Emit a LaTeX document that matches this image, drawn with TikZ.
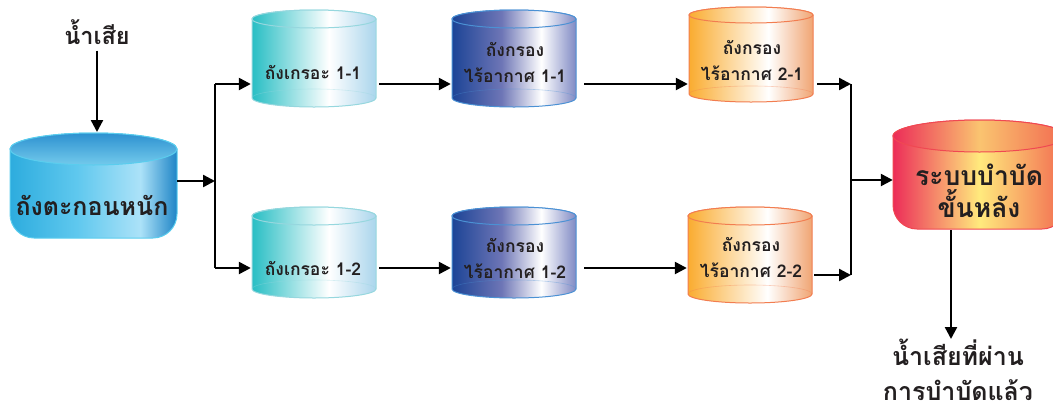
\documentclass[tikz,border=0pt]{standalone}
\usepackage{fontspec}
\newfontfamily\thaifont[Script=Thai]{Loma}
\usetikzlibrary{arrows.meta}

% tank colours
\definecolor{ink}{RGB}{35,31,32}
\definecolor{cyL}{RGB}{45,172,222}
\definecolor{cyM}{RGB}{95,200,238}
\definecolor{cyH}{RGB}{172,226,248}
\definecolor{cyR}{RGB}{30,132,198}
\definecolor{cyTopD}{RGB}{45,145,208}
\definecolor{cyTopL}{RGB}{115,202,236}
\definecolor{cyRim}{RGB}{90,205,238}
\definecolor{teL}{RGB}{40,190,196}
\definecolor{teR}{RGB}{170,213,236}
\definecolor{teRim}{RGB}{150,215,222}
\definecolor{blL}{RGB}{28,68,150}
\definecolor{blM}{RGB}{110,118,182}
\definecolor{blR}{RGB}{128,138,196}
\definecolor{blRim}{RGB}{75,145,212}
\definecolor{orL}{RGB}{250,172,48}
\definecolor{orR}{RGB}{240,165,115}
\definecolor{orRim}{RGB}{242,125,80}
\definecolor{rdL}{RGB}{236,45,88}
\definecolor{rdM}{RGB}{255,234,125}
\definecolor{rdR}{RGB}{242,105,80}
\definecolor{rdRim}{RGB}{240,72,82}
\definecolor{rdTopM}{RGB}{250,196,112}

% body shadings (the filled path spans 25bp..75bp)
\pgfdeclarehorizontalshading{cyanbody}{100bp}{color(0bp)=(cyL); color(25bp)=(cyL); color(45bp)=(cyM); color(64bp)=(cyH); color(75bp)=(cyR); color(100bp)=(cyR)}
\pgfdeclareverticalshading{cyantop}{100bp}{color(0bp)=(cyTopL); color(25bp)=(cyTopL); color(75bp)=(cyTopD); color(100bp)=(cyTopD)}
\pgfdeclarehorizontalshading{tealbody}{100bp}{color(0bp)=(teL); color(25bp)=(teL); color(56bp)=(white); color(75bp)=(teR); color(100bp)=(teR)}
\pgfdeclarehorizontalshading{bluebody}{100bp}{color(0bp)=(blL); color(25bp)=(blL); color(45bp)=(blM); color(61bp)=(white); color(75bp)=(blR); color(100bp)=(blR)}
\pgfdeclarehorizontalshading{orangebody}{100bp}{color(0bp)=(orL); color(25bp)=(orL); color(57bp)=(white); color(75bp)=(orR); color(100bp)=(orR)}
\pgfdeclarehorizontalshading{redbody}{100bp}{color(0bp)=(rdL); color(25bp)=(rdL); color(50bp)=(rdM); color(75bp)=(rdR); color(100bp)=(rdR)}
\pgfdeclarehorizontalshading{redtop}{100bp}{color(0bp)=(rdL); color(25bp)=(rdL); color(50bp)=(rdTopM); color(75bp)=(rdR); color(100bp)=(rdR)}

% tank with an elliptic bottom: xL, xR, top y, bottom y, ry, body shading, rim, top shading
\newcommand\tankE[8]{%
  \pgfmathsetmacro\tkrx{(#2-#1)/2}\pgfmathsetmacro\tkxc{(#1+#2)/2}%
  \path[shade,shading=#6,draw=#7,line width=1pt]
    (#2,#3) arc[start angle=0,end angle=-180,x radius=\tkrx,y radius=#5]
    -- (#1,#4) arc[start angle=180,end angle=0,x radius=\tkrx,y radius=#5] -- cycle;
  \path[draw=#7,line width=0.6pt,opacity=0.35]
    (#1,#4) arc[start angle=180,end angle=360,x radius=\tkrx,y radius=#5];
  \path[shade,shading=#8,draw=#7,line width=1pt] (\tkxc,#3) ellipse[x radius=\tkrx,y radius=#5];
}
% tank with a rounded flat bottom: xL, xR, top y, bottom y, ry, corner radius, body shading, rim, top shading
\newcommand\tankR[9]{%
  \pgfmathsetmacro\tkrx{(#2-#1)/2}\pgfmathsetmacro\tkxc{(#1+#2)/2}%
  \pgfmathsetmacro\tkyc{#4-#6}\pgfmathsetmacro\tkxl{#1+#6}\pgfmathsetmacro\tkxr{#2-#6}%
  \path[shade,shading=#7,draw=#8,line width=1pt]
    (#2,#3) arc[start angle=0,end angle=-180,x radius=\tkrx,y radius=#5]
    -- (#1,\tkyc) arc[start angle=180,end angle=90,radius=#6]
    -- (\tkxr,#4) arc[start angle=90,end angle=0,radius=#6] -- cycle;
  \path[shade,shading=#9,draw=#8,line width=1pt] (\tkxc,#3) ellipse[x radius=\tkrx,y radius=#5];
}

\begin{document}
\begin{tikzpicture}[x=1pt,y=-1pt,
  arr/.style={line width=2.4pt,-{Triangle[length=12pt,width=12pt]}},
  trunk/.style={line width=1.8pt},
  port/.style={inner sep=0pt,minimum height=2pt,draw=none},
  lbl/.style={inner sep=0pt,text=ink,align=center},
  big/.style={lbl,font=\thaifont\bfseries\fontsize{25}{37}\selectfont},
  small/.style={lbl,font=\thaifont\bfseries\fontsize{17.5}{26}\selectfont}]
\useasboundingbox (0,0) rectangle (1053,413);

% tanks
\tankR{10}{177}{149}{238}{16}{24}{cyanbody}{cyRim}{cyantop}
\tankE{252}{376}{19}{98}{9}{tealbody}{teRim}{tealbody}
\tankE{452}{576}{19}{98}{9}{bluebody}{blRim}{bluebody}
\tankE{689}{813}{15}{94}{8}{orangebody}{orRim}{orangebody}
\tankE{252}{376}{216}{289}{9}{tealbody}{teRim}{tealbody}
\tankE{452}{576}{216}{289}{9}{bluebody}{blRim}{bluebody}
\tankE{688}{812}{216}{294}{9}{orangebody}{orRim}{orangebody}
\tankR{893}{1066}{136}{229}{16}{24}{redbody}{rdRim}{redtop}

% connection ports on the tank sides
\node[port,minimum width=167] (c0)  at (93.5,181) {};
\node[port,minimum width=126] (t11) at (314,84) {};
\node[port,minimum width=126] (b11) at (514,84) {};
\node[port,minimum width=126] (o21) at (751,84) {};
\node[port,minimum width=126] (t12) at (314,268) {};
\node[port,minimum width=126] (b12) at (514,268) {};
\node[port,minimum width=126] (o22) at (750,268) {};
\node[port,minimum width=173] (r)   at (979.5,180) {};

% labels
\node[big,font=\thaifont\bfseries\fontsize{23.5}{30}\selectfont] (in0) at (97,32) {น้ำเสีย};
\node[big] (lc0) at (92,205) {ถังตะกอนหนัก};
\node[small] (lt11) at (313,72) {ถังเกรอะ 1-1};
\node[small] (lb11) at (515,62) {ถังกรอง\\ไร้อากาศ 1-1};
\node[small] (lo21) at (752,60) {ถังกรอง\\ไร้อากาศ 2-1};
\node[small] (lt12) at (313,268) {ถังเกรอะ 1-2};
\node[small] (lb12) at (515,258) {ถังกรอง\\ไร้อากาศ 1-2};
\node[small] (lo22) at (751,257) {ถังกรอง\\ไร้อากาศ 2-2};
\node[big,font=\thaifont\bfseries\fontsize{26.5}{32}\selectfont] (lr) at (979,191) {ระบบบำบัด\\ขั้นหลัง};
\node[big,anchor=north,font=\thaifont\bfseries\fontsize{25}{35}\selectfont] (out) at (958,339) {น้ำเสียที่ผ่าน\\การบำบัดแล้ว};

% junction points
\coordinate (c0top) at (97,132);
\coordinate (s1)  at (215,181);
\coordinate (s1t) at (215,84);
\coordinate (s1b) at (215,268);
\coordinate (o22out) at (814,275);
\coordinate (m1t) at (851,84);
\coordinate (m1b) at (851,275);
\coordinate (m1)  at (851,180);
\coordinate (rbot) at (951,230);

% connectors
\draw[arr] (in0.south) ++(0,6) -- (c0top);
\draw[arr] (c0.east) -- (s1);
\draw[trunk] (s1t) -- (s1b);
\draw[arr] (s1t) -- (t11.west);
\draw[arr] (s1b) -- (t12.west);
\draw[arr] ([xshift=2pt]t11.east) -- (b11.west);
\draw[arr] ([xshift=2pt]t12.east) -- (b12.west);
\draw[arr] ([xshift=7pt]b11.east) -- (o21.west);
\draw[arr] ([xshift=7pt]b12.east) -- (o22.west);
\draw[arr] ([xshift=3pt]o21.east) -- (m1t);
\draw[arr] (o22out) -- (m1b);
\draw[trunk] (m1t) -- (m1b);
\draw[arr] (m1) -- (r.west);
\draw[arr] (rbot) -- (rbot |- out.north);
\end{tikzpicture}
\end{document}
